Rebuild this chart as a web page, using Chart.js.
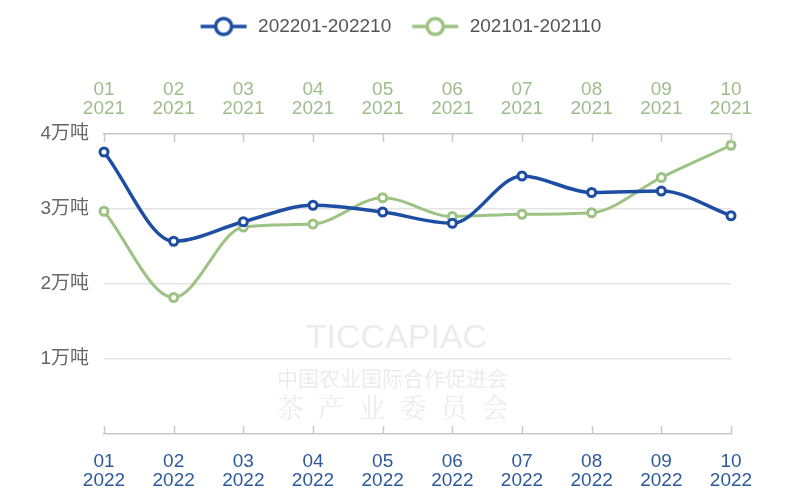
<!DOCTYPE html>
<html lang="zh">
<head>
<meta charset="UTF-8">
<script src="https://cdn.jsdelivr.net/npm/chart.js@4.4.1/dist/chart.umd.min.js"></script>
<style>
  html, body { margin: 0; padding: 0; background: #fff; }
  #wrap { width: 800px; height: 498px; }
</style>
</head>
<body>
<div id="wrap"><canvas id="myChart" width="800" height="498"></canvas></div>
<script>
// data (万吨)
const months = ['01', '02', '03', '04', '05', '06', '07', '08', '09', '10'];
const yearNow = '2022';
const yearPrev = '2021';
const seriesNames = ['202201-202210', '202101-202110'];
const values2022 = [3.76, 2.57, 2.83, 3.05, 2.96, 2.81, 3.44, 3.22, 3.24, 2.91];
const values2021 = [2.97, 1.82, 2.76, 2.80, 3.15, 2.90, 2.93, 2.95, 3.42, 3.85];
const yTickLabels = ['', '1万吨', '2万吨', '3万吨', '4万吨'];

const BLUE = '#1d4ea3';
const GREEN = '#9dc384';
const FONT = "'Liberation Sans', 'Noto Sans CJK SC', sans-serif";

// legend marker: line with hollow circle
function legendMarker(color) {
  const c = document.createElement('canvas');
  c.width = 48; c.height = 22;
  const g = c.getContext('2d');
  g.strokeStyle = color;
  g.lineWidth = 3.5;
  g.beginPath(); g.moveTo(1, 11); g.lineTo(47, 11); g.stroke();
  g.beginPath(); g.arc(24, 11, 8, 0, Math.PI * 2);
  g.fillStyle = '#fff'; g.fill(); g.stroke();
  return c;
}
const markers = [legendMarker(BLUE), legendMarker(GREEN)];

// small tick marks drawn inside the plot on both x axes
const innerTicks = {
  id: 'innerTicks',
  afterDraw(chart) {
    const ctx = chart.ctx;
    ctx.save();
    ctx.strokeStyle = '#c8c8c8';
    ctx.lineWidth = 1.5;
    ['x', 'x2'].forEach(id => {
      const s = chart.scales[id];
      const yEdge = id === 'x' ? s.top : s.bottom;
      const dir = id === 'x' ? -1 : 1;
      s.ticks.forEach((t, i) => {
        const px = Math.round(s.getPixelForTick(i)) + 0.5;
        ctx.beginPath();
        ctx.moveTo(px, yEdge);
        ctx.lineTo(px, yEdge + dir * 8);
        ctx.stroke();
      });
    });
    ctx.restore();
  }
};

// faint watermark text
const watermark = {
  id: 'watermark',
  beforeDatasetsDraw(chart) {
    const a = chart.chartArea;
    const cx = (a.left + a.right) / 2;
    const ctx = chart.ctx;
    ctx.save();
    ctx.textAlign = 'center';
    ctx.textBaseline = 'middle';
    ctx.fillStyle = '#ececec';
    ctx.font = "34px 'Liberation Sans', sans-serif";
    ctx.fillText('TICCAPIAC', cx - 21, 339);
    ctx.font = "21px 'Noto Sans CJK SC', sans-serif";
    ctx.fillText('中国农业国际合作促进会', cx - 25, 378);
    ctx.font = "27px 'Noto Serif CJK SC', 'Noto Sans CJK SC', serif";
    if ('letterSpacing' in ctx) ctx.letterSpacing = '14px';
    ctx.fillText('茶产业委员会', cx - 18, 408);
    ctx.restore();
  }
};

const ctx = document.getElementById('myChart').getContext('2d');
new Chart(ctx, {
  type: 'line',
  data: {
    labels: months.map(m => [m, yearNow]),
    datasets: [
      {
        label: seriesNames[0],
        data: values2022,
        borderColor: BLUE,
        backgroundColor: '#fff',
        borderWidth: 3.5,
        pointRadius: 4,
        pointBorderWidth: 3,
        pointBackgroundColor: '#fff',
        cubicInterpolationMode: 'monotone',
        xAxisID: 'x'
      },
      {
        label: seriesNames[1],
        data: values2021,
        borderColor: GREEN,
        backgroundColor: '#fff',
        borderWidth: 3,
        pointRadius: 4,
        pointBorderWidth: 3,
        pointBackgroundColor: '#fff',
        cubicInterpolationMode: 'monotone',
        xAxisID: 'x'
      }
    ]
  },
  options: {
    responsive: false,
    animation: false,
    layout: { padding: { top: -2, right: 0, bottom: 0, left: 0 } },
    plugins: {
      tooltip: { enabled: false },
      legend: {
        position: 'top',
        labels: {
          usePointStyle: true,
          pointStyleWidth: 50,
          padding: 19,
          color: '#555',
          font: { family: FONT, size: 19 },
          generateLabels(chart) {
            const items = Chart.defaults.plugins.legend.labels.generateLabels(chart);
            items.forEach((it, i) => { it.pointStyle = markers[i]; });
            return items;
          }
        }
      }
    },
    scales: {
      x: {
        type: 'category',
        position: 'bottom',
        offset: false,
        grid: { drawOnChartArea: false, drawTicks: false },
        border: { display: true, color: '#c8c8c8', width: 1.5 },
        ticks: {
          color: '#2d5a9b',
          padding: 18,
          maxRotation: 0,
          autoSkip: false,
          font: { family: FONT, size: 19, lineHeight: 1.0 }
        },
        afterFit(s) { s.height = 64; }
      },
      x2: {
        type: 'category',
        position: 'top',
        offset: false,
        labels: months.map(m => [m, yearPrev]),
        grid: { drawOnChartArea: false, drawTicks: false },
        border: { display: true, color: '#c8c8c8', width: 1.5 },
        ticks: {
          color: '#9fbd8c',
          padding: 16,
          maxRotation: 0,
          autoSkip: false,
          font: { family: FONT, size: 19, lineHeight: 0.98 }
        },
        afterFit(s) { s.height = 88; }
      },
      y: {
        min: 0,
        max: 4,
        border: { display: false },
        grid: {
          drawTicks: false,
          lineWidth: 1.5,
          color: c => (c.tick.value === 0 || c.tick.value === 4) ? 'rgba(0,0,0,0)' : '#e4e4e4'
        },
        ticks: {
          stepSize: 1,
          padding: 15,
          color: '#666',
          font: { family: FONT, size: 19 },
          callback: v => yTickLabels[v]
        },
        afterFit(s) { s.width = 104; }
      },
      // empty right-hand band so the plot ends where the reference does
      yRight: {
        type: 'linear',
        position: 'right',
        min: 0,
        max: 4,
        grid: { display: false },
        border: { display: false },
        ticks: { display: false },
        afterFit(s) { s.width = 69; }
      }
    }
  },
  plugins: [innerTicks, watermark]
});
</script>
</body>
</html>
